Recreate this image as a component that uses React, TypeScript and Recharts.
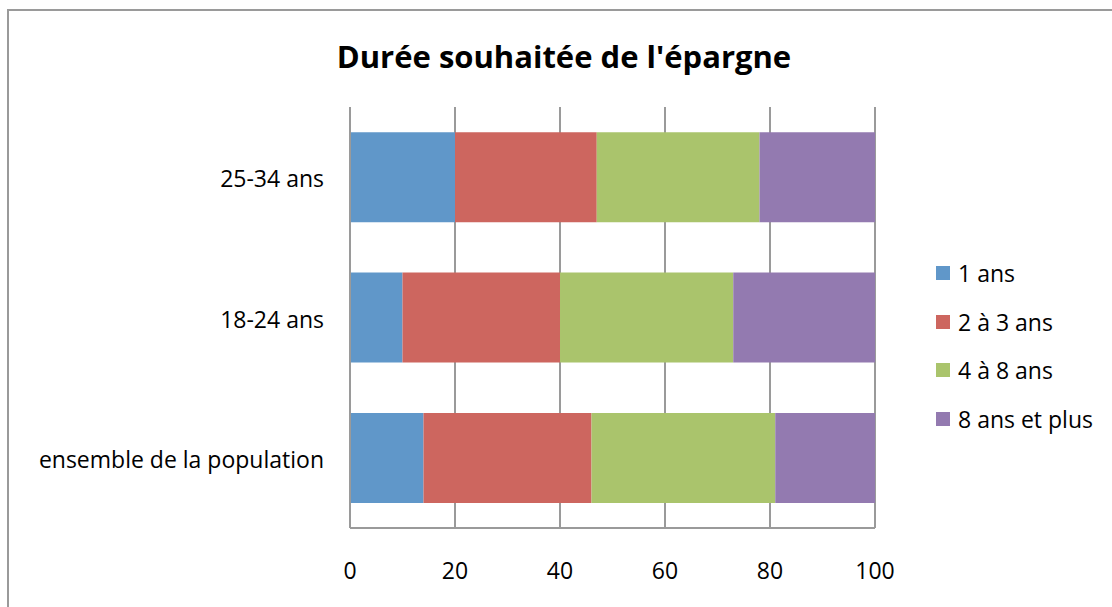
import React from "react";
import { BarChart, Bar, XAxis, YAxis, CartesianGrid, Legend } from "recharts";

const categories = ["25-34 ans", "18-24 ans", "ensemble de la population"];
const seriesNames = ["1 ans", "2 à 3 ans", "4 à 8 ans", "8 ans et plus"];
const seriesColors = ["#6097C9", "#CD665F", "#AAC46C", "#937AB0"];
const s1 = [20, 10, 14];
const s2 = [27, 30, 32];
const s3 = [31, 33, 35];
const s4 = [22, 27, 19];
const xTicks = [0, 20, 40, 60, 80, 100];
const title = "Durée souhaitée de l'épargne";

const seriesValues = [s1, s2, s3, s4];
const keys = ["s1", "s2", "s3", "s4"];

const data = categories.map((c, i) => {
  const row: any = { name: c };
  keys.forEach((k, j) => (row[k] = seriesValues[j][i]));
  return row;
});

const FONT = "'Open Sans', Lato, sans-serif";

const renderLegend = () => (
  <div style={{ fontFamily: FONT }}>
    {seriesNames.map((n, i) => (
      <div key={n} style={{ display: "flex", alignItems: "center", height: 48.6 }}>
        <span style={{ width: 14, height: 14, background: seriesColors[i], display: "inline-block", marginRight: 8 }} />
        <span style={{ fontSize: 23, color: "#000" }}>{n}</span>
      </div>
    ))}
  </div>
);

export default function App() {
  return (
    <div style={{ position: "fixed", left: 0, top: 0, width: 1112, height: 607, overflow: "hidden", background: "#fff" }}>
      <div style={{ position: "absolute", left: 7, top: 9, width: 1300, height: 800, border: "2px solid #9a9a9a", boxSizing: "border-box" }} />
      <div style={{ position: "absolute", left: 0, top: 35, width: 1128, textAlign: "center", fontFamily: FONT, fontWeight: 700, fontSize: 31, color: "#000" }}>
        {title}
      </div>
      <div style={{ position: "absolute", left: 0, top: 0 }}>
        <BarChart width={1112} height={607} data={data} layout="vertical" margin={{ top: 107, right: 61, bottom: 39, left: 10 }} barCategoryGap="18%">
          <CartesianGrid horizontal={false} stroke="#9a9a9a" strokeWidth={2} />
          <XAxis type="number" domain={[0, 100]} ticks={xTicks} interval={0} tickLine={false} axisLine={{ stroke: "#9a9a9a", strokeWidth: 2 }} tickMargin={29} height={40} tick={{ fill: "#000", fontSize: 23, fontFamily: FONT }} />
          <YAxis type="category" dataKey="name" width={340} tickLine={false} axisLine={{ stroke: "#9a9a9a", strokeWidth: 2 }} tickMargin={20} tick={{ fill: "#000", fontSize: 23, fontFamily: FONT, dy: 2 }} />
          <Legend layout="vertical" align="right" verticalAlign="middle" content={renderLegend} wrapperStyle={{ left: 936, top: 249, width: 176 }} />
          {keys.map((k, j) => (
            <Bar key={k} dataKey={k} stackId="a" fill={seriesColors[j]} isAnimationActive={false} name={seriesNames[j]} />
          ))}
        </BarChart>
      </div>
    </div>
  );
}
